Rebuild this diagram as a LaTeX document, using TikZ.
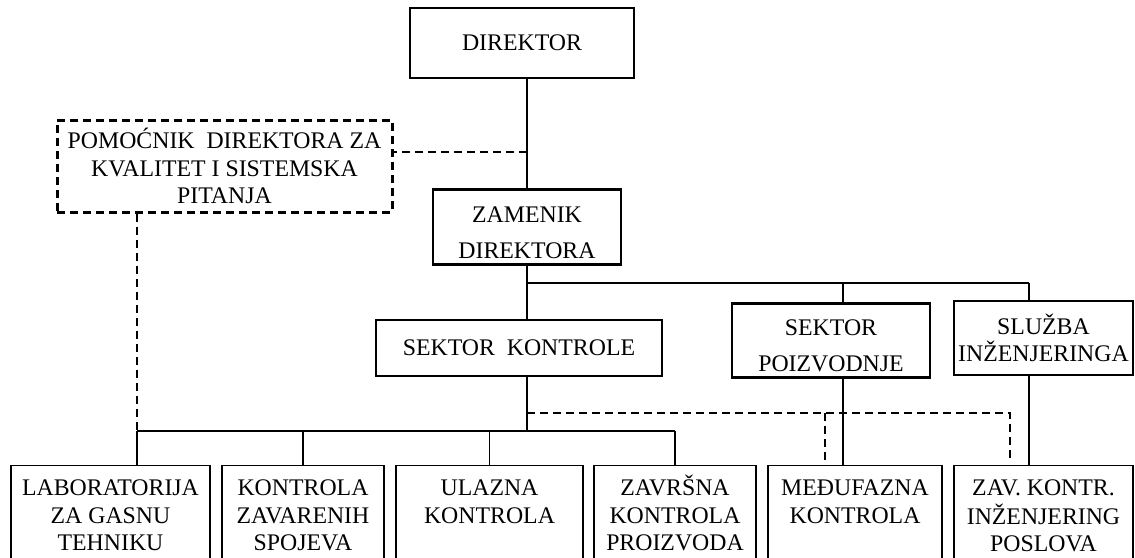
\documentclass[tikz,border=0pt]{standalone}
\usepackage{fontspec}
\setmainfont{Liberation Serif}
\newcommand{\rows}[1]{\begin{tabular}[t]{@{}c@{}}#1\end{tabular}}

\begin{document}
\begin{tikzpicture}[x=1pt, y=-1pt,
    box/.style={draw, line width=1.4pt, inner sep=0pt, align=center,
      font=\fontsize{23.8}{27.5}\selectfont},
    chief/.style={box, line width=2.6pt},
    unit/.style={box, anchor=north, text height=30pt, text depth=95pt},
    link/.style={line width=1.4pt},
    dlink/.style={line width=1.7pt, dash pattern=on 8pt off 5pt}]
  \clip (0,0) rectangle (1135,557);

  % uprava
  \node[chief, minimum width=224pt, minimum height=70pt] (dir) at (522,43) {DIREKTOR};
  \node[box, line width=3pt, dash pattern=on 8pt off 5pt, minimum width=335pt, minimum height=92pt] (pom) at (224.5,166)
    {POMOĆNIK~ DIREKTORA ZA\\KVALITET I SISTEMSKA\\PITANJA};
  \node[chief, anchor=north, minimum width=188pt, text height=33pt, text depth=42pt,
    font=\fontsize{23.8}{36}\selectfont] (zam) at (527,188) {\rows{ZAMENIK\\DIREKTORA}};

  % sektori
  \node[chief, minimum width=286pt, minimum height=56pt] (skon) at (519,348) {SEKTOR~ KONTROLE};
  \node[chief, anchor=north, minimum width=198pt, text height=32pt, text depth=42pt,
    font=\fontsize{23.8}{36}\selectfont] (spoiz) at (831,302) {\rows{SEKTOR\\POIZVODNJE}};
  \node[box, minimum width=179pt, minimum height=74pt] (sluz) at (1043.5,338) {SLUŽBA\\INŽENJERINGA};

  % kontrole
  \node[unit, minimum width=199pt] (lab) at (110.5,465) {\rows{LABORATORIJA\\ZA GASNU\\TEHNIKU}};
  \node[unit, minimum width=162pt] (kzs) at (303,465) {\rows{KONTROLA\\ZAVARENIH\\SPOJEVA}};
  \node[unit, minimum width=187pt] (ul) at (489.5,465) {\rows{ULAZNA\\KONTROLA}};
  \node[unit, minimum width=162pt] (zavr) at (675,465) {\rows{ZAVRŠNA\\KONTROLA\\PROIZVODA}};
  \node[unit, minimum width=174pt] (med) at (855,465) {\rows{MEĐUFAZNA\\KONTROLA}};
  \node[unit, minimum width=179pt] (zk) at (1043.5,465) {\rows{ZAV. KONTR.\\INŽENJERING\\POSLOVA}};

  \coordinate (pj) at (527,152);
  \coordinate (top) at (527,283);
  \coordinate (p1) at (843,283);
  \coordinate (p2) at (1029,283);
  \coordinate (dash) at (527,413);
  \coordinate (d1) at (825,413);
  \coordinate (d2) at (1010,413);
  \coordinate (low) at (527,431);
  \coordinate (b0) at (137,431);

  \draw[link] (zam.north |- dir.south) -- (zam.north);
  \draw[dlink] (pj) -- (pj -| pom.east);
  \draw[link] (zam.south) -- (zam.south |- skon.north);
  \draw[link] (top) -- (p2);
  \draw[link] (p1) -- (p1 |- spoiz.north);
  \draw[link] (p2) -- (p2 |- sluz.north);
  \draw[link] (low |- skon.south) -- (low);
  \draw[link] (b0) -- (b0 -| zavr.north);
  \draw[link] (b0) -- (b0 |- lab.north);
  \foreach \n in {kzs,ul,zavr}
    \draw[link] (\n.north) -- (\n.north |- b0);
  \draw[dlink] (b0 |- pom.south) -- (b0);
  \draw[dlink] (dash) -- (d2) -- ([yshift=5pt]d2 |- zk.north);
  \draw[dlink] (d1) -- ([yshift=5pt]d1 |- med.north);
  \draw[link] (p1 |- spoiz.south) -- (p1 |- med.north);
  \draw[link] (p2 |- sluz.south) -- (p2 |- zk.north);
\end{tikzpicture}
\end{document}
